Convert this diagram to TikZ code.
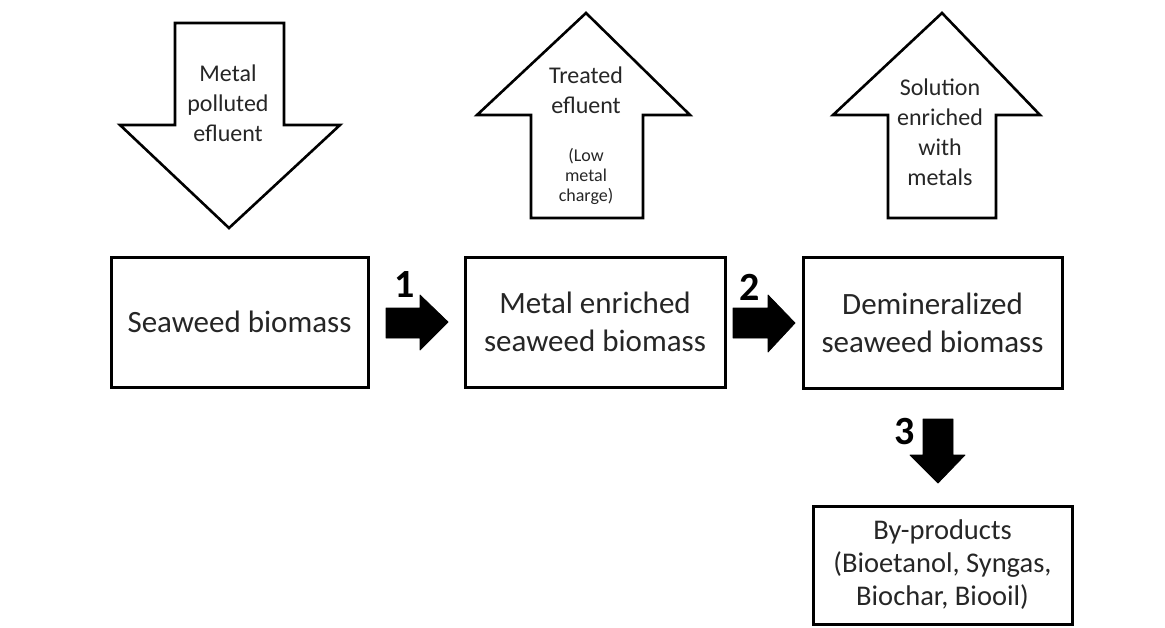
\documentclass[tikz,border=0pt]{standalone}
\usepackage{fontspec}
\setmainfont{Carlito}
\begin{document}
\begin{tikzpicture}[x=1pt,y=-1pt,
  box/.style={draw=black,line width=3pt,fill=white,inner sep=0pt,align=center},
  bigarrow/.style={draw=black,line width=2.6pt,line join=miter,fill=white},
  blkarrow/.style={fill=black,draw=black,line width=0.8pt,line join=round},
  boxtext/.style={font=\fontsize{31}{38}\selectfont,align=center,text=black!85},
  arrtext/.style={font=\fontsize{24}{30}\selectfont,align=center,text=black!85},
  smalltext/.style={font=\fontsize{18}{20}\selectfont,align=center,text=black!85},
  numtext/.style={font=\fontsize{40}{40}\bfseries\selectfont,text=black}]
\useasboundingbox[fill=white] (0,0) rectangle (1165,627);

% Big outline arrows
\draw[bigarrow] (175,23) -- (284,23) -- (284,125) -- (340,125) -- (229,228) -- (120,125) -- (175,125) -- cycle;
\node[arrtext] (a1) at (228,103) {Metal\\polluted\\efluent};

\draw[bigarrow] (531,218) -- (531,115) -- (477,115) -- (586,13) -- (690,115) -- (643,115) -- (643,218) -- cycle;
\node[arrtext] (a2) at (586,90) {Treated\\efluent};
\node[smalltext] (a2s) at (586,176) {(Low\\metal\\charge)};

\draw[bigarrow] (888,218) -- (888,115) -- (833,115) -- (942,13) -- (1040,115) -- (996,115) -- (996,218) -- cycle;
\node[arrtext] (a3) at (940,132) {Solution\\enriched\\with\\metals};

% Boxes
\node[box,minimum width=257pt,minimum height=130pt] (b1) at (239.5,322) {};
\node[boxtext] at (b1.center) {Seaweed biomass};
\node[box,minimum width=260pt,minimum height=130pt] (b2) at (595,322) {};
\node[boxtext] at (b2.center) {Metal enriched\\seaweed biomass};
\node[box,minimum width=259pt,minimum height=131pt] (b3) at (932.5,322.5) {};
\node[boxtext] at (b3.center) {Demineralized\\seaweed biomass};
\node[box,minimum width=259pt,minimum height=118pt] (b4) at (942.5,565) {};
\node[font=\fontsize{28.5}{33}\selectfont,align=center,text=black!85] at (b4.center) {By-products\\(Bioetanol, Syngas,\\Biochar, Biooil)};

% Black step arrows
\draw[blkarrow] (386,308) -- (420,308) -- (420,295) -- (448,322) -- (420,350) -- (420,338) -- (386,338) -- cycle;
\node[numtext] (n1) at (405,285) {1};
\draw[blkarrow] (733,308) -- (768,308) -- (768,295) -- (795,323) -- (768,352) -- (768,338) -- (733,338) -- cycle;
\node[numtext] (n2) at (750,287) {2};
\draw[blkarrow] (923,419) -- (953,419) -- (953,455) -- (965,455) -- (938,483) -- (910,455) -- (923,455) -- cycle;
\node[numtext] (n3) at (905,432) {3};
\end{tikzpicture}
\end{document}
